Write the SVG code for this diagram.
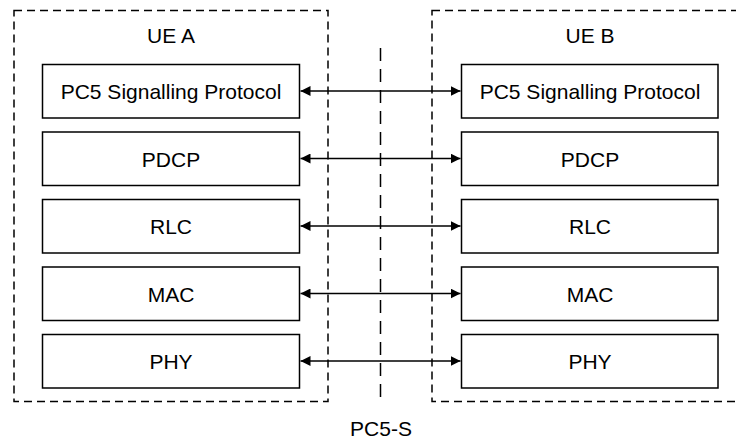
<svg xmlns="http://www.w3.org/2000/svg" width="736" height="439" viewBox="0 0 736 439">
<style>
text{font-family:"Liberation Sans",Arial,sans-serif;font-size:21px;fill:#000;text-anchor:middle}
.ue{fill:none;stroke:#000;stroke-width:1.5;stroke-dasharray:8 5}
.box{fill:#fff;stroke:#000;stroke-width:1.5}
.ref{fill:none;stroke:#000;stroke-width:1.5;stroke-dasharray:13 8}
.con{fill:none;stroke:#000;stroke-width:1.5;marker-start:url(#a);marker-end:url(#a)}
</style>
<defs>
<marker id="a" markerUnits="userSpaceOnUse" viewBox="0 0 10 10" refX="10" refY="5" markerWidth="10" markerHeight="10" orient="auto-start-reverse">
<path d="M0,0 L10,5 L0,10 Z" fill="#000"/>
</marker>
</defs>
<rect width="736" height="439" fill="#fff"/>
<g id="ueA">
<rect class="ue" x="14" y="10.5" width="314" height="391"/>
<text x="171" y="43">UE A</text>
</g>
<g id="ueB">
<rect class="ue" x="432" y="10.5" width="320" height="391"/>
<text x="590" y="43">UE B</text>
</g>
<g id="refline">
<line class="ref" x1="380.5" y1="48" x2="380.5" y2="402"/>
<text x="381" y="436">PC5-S</text>
</g>
<g id="a1"><rect class="box" x="42.5" y="64.5" width="257" height="53.5"/><text x="171" y="99">PC5 Signalling Protocol</text></g>
<g id="a2"><rect class="box" x="42.5" y="132" width="257" height="53.5"/><text x="171" y="166.5">PDCP</text></g>
<g id="a3"><rect class="box" x="42.5" y="199.5" width="257" height="53.5"/><text x="171" y="234">RLC</text></g>
<g id="a4"><rect class="box" x="42.5" y="267" width="257" height="53.5"/><text x="171" y="301.5">MAC</text></g>
<g id="a5"><rect class="box" x="42.5" y="334.5" width="257" height="53.5"/><text x="171" y="369">PHY</text></g>
<g id="b1"><rect class="box" x="461.5" y="64.5" width="256.5" height="53.5"/><text x="590" y="99">PC5 Signalling Protocol</text></g>
<g id="b2"><rect class="box" x="461.5" y="132" width="256.5" height="53.5"/><text x="590" y="166.5">PDCP</text></g>
<g id="b3"><rect class="box" x="461.5" y="199.5" width="256.5" height="53.5"/><text x="590" y="234">RLC</text></g>
<g id="b4"><rect class="box" x="461.5" y="267" width="256.5" height="53.5"/><text x="590" y="301.5">MAC</text></g>
<g id="b5"><rect class="box" x="461.5" y="334.5" width="256.5" height="53.5"/><text x="590" y="369">PHY</text></g>
<g id="connectors">
<line class="con" x1="300.5" y1="91" x2="460.5" y2="91"/>
<line class="con" x1="300.5" y1="158.5" x2="460.5" y2="158.5"/>
<line class="con" x1="300.5" y1="226" x2="460.5" y2="226"/>
<line class="con" x1="300.5" y1="293.5" x2="460.5" y2="293.5"/>
<line class="con" x1="300.5" y1="361" x2="460.5" y2="361"/>
</g>
</svg>
